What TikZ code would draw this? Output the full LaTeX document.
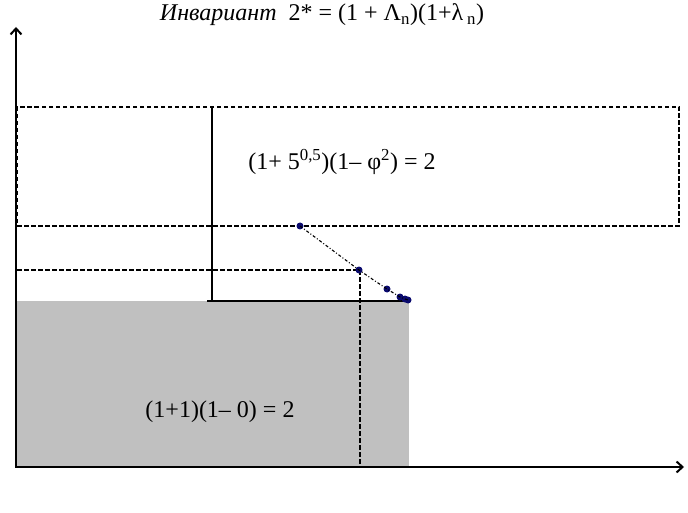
\documentclass[tikz,border=0pt]{standalone}
\usepackage{fontspec}
\setmainfont{Liberation Serif}
\usetikzlibrary{arrows.meta}
\definecolor{fillgray}{RGB}{192,192,192}
\definecolor{dotblue}{RGB}{10,10,110}
\tikzset{
  axis/.style={line width=2pt,-{Straight Barb[length=6pt,width=11pt,line width=2pt]}},
  dline/.style={line width=2pt,dash pattern=on 4.5pt off 2.5pt},
  thin line/.style={line width=1.1pt},
  curve/.style={line width=1.1pt,dash pattern=on 3pt off 2pt on 1pt off 2pt},
  pt/.style={circle,fill=dotblue,inner sep=0pt,minimum size=7pt},
  lbl/.style={font=\fontsize{24}{26}\selectfont,inner sep=0pt}
}
\begin{document}
\begin{tikzpicture}[x=1pt,y=-1pt]
\useasboundingbox (0,0) rectangle (688,513);
% gray area
\fill[fillgray] (17,301) rectangle (409,466);
% dashed rectangle
\draw[dline] (17,107) rectangle (679,226);
% dashed lines
\coordinate (hl) at (17,270);
\coordinate (c2) at (360,270);
\coordinate (vb) at (360,466);
\draw[dline] (hl) -- (c2) -- (vb);
% thin lines
\coordinate (vt) at (212,107);
\coordinate (vbot) at (212,301);
\coordinate (hs) at (207,301);
\coordinate (he) at (409,301);
\draw[thin line] (vt) -- (vbot);
\draw[thin line] (hs) -- (he);
% axes
\coordinate (o) at (16,467);
\coordinate (ytop) at (16,27);
\coordinate (xend) at (684,467);
\draw[axis] (o) -- (ytop);
\draw[axis] (15,467) -- (xend);
% points and curve
\node[pt] (p1) at (300,226) {};
\node[pt] (p2) at (359,270) {};
\node[pt] (p3) at (387,289) {};
\node[pt] (p4) at (400,297) {};
\node[pt] (p5) at (405,299) {};
\node[pt] (p6) at (408,300) {};
\draw[curve] (p1.center) .. controls (330,248) .. (p2.center) .. controls (375,281) .. (p3.center) -- (p4.center) -- (p5.center) -- (p6.center);
% labels
\node[lbl] (t1) at (342,162) {(1+ 5\textsuperscript{0,5})(1– φ\textsuperscript{2}) = 2};
\node[lbl] (t2) at (220,412) {(1+1)(1– 0) = 2};
\node[lbl] (title) at (322,15) {\textit{Инвариант}\ \ 2* = (1 + Λ\textsubscript{n})(1+λ\,\textsubscript{n})};
\end{tikzpicture}
\end{document}
